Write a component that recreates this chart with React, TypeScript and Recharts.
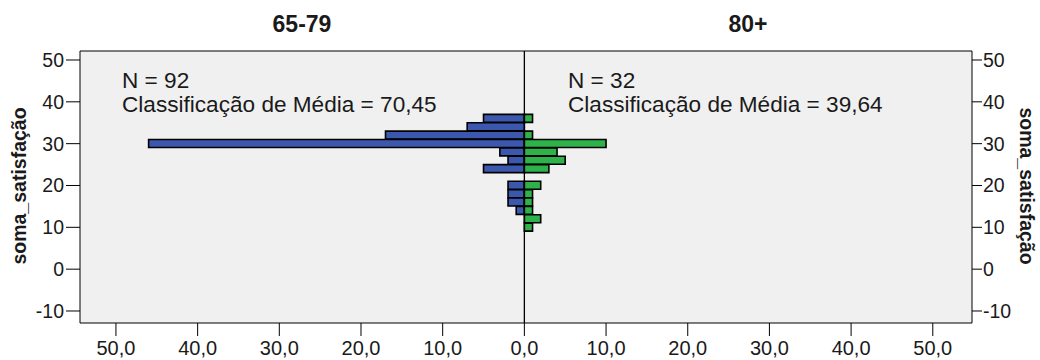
import React from "react";
import {
  ComposedChart,
  Bar,
  XAxis,
  YAxis,
  CartesianGrid,
  ReferenceLine,
  Customized,
} from "recharts";

// Histogram bin centres of soma_satisfação (bin width 2)
const bins = [36, 34, 32, 30, 28, 26, 24, 22, 20, 18, 16, 14, 12, 10];
// Frequencies per bin for each age group
const group6579 = [5, 7, 17, 46, 3, 2, 5, 0, 2, 2, 2, 1, 0, 0];
const group80 = [1, 0, 1, 10, 4, 5, 3, 0, 2, 1, 1, 1, 2, 1];

const groupTitles = ["65-79", "80+"];
const groupN = [92, 32];
const meanRanks = ["70,45", "39,64"];

const xTicks = [-50, -40, -30, -20, -10, 0, 10, 20, 30, 40, 50];
const yTicks = [-10, 0, 10, 20, 30, 40, 50];
const axisTitle = "soma_satisfação";

const data = bins.map((b, i) => ({
  bin: b,
  left: group6579[i] ? -group6579[i] : null,
  right: group80[i] ? group80[i] : null,
}));

const FONT = "'Liberation Sans', Arial, sans-serif";
const BLUE = "#3C58AE";
const GREEN = "#2DB34A";
const INK = "#1a1a1a";

const fmtX = (v: number) => Math.abs(v).toFixed(1).replace(".", ",");

const Texts = () => (
  <g fontFamily={FONT} fill={INK}>
    <text x={302} y={32} textAnchor="middle" fontSize={23} fontWeight="bold">
      {groupTitles[0]}
    </text>
    <text x={748} y={32} textAnchor="middle" fontSize={23} fontWeight="bold">
      {groupTitles[1]}
    </text>
    <text x={122} y={88} fontSize={22.6}>{`N = ${groupN[0]}`}</text>
    <text x={122} y={111.5} fontSize={22.6}>
      {`Classificação de Média = ${meanRanks[0]}`}
    </text>
    <text x={568} y={88} fontSize={22.6}>{`N = ${groupN[1]}`}</text>
    <text x={568} y={111.5} fontSize={22.6}>
      {`Classificação de Média = ${meanRanks[1]}`}
    </text>
    <text
      transform="translate(19,186) rotate(-90)"
      textAnchor="middle"
      dominantBaseline="central"
      fontSize={19.5}
      fontWeight="bold"
    >
      {axisTitle}
    </text>
    <text
      transform="translate(1027,186) rotate(90)"
      textAnchor="middle"
      dominantBaseline="central"
      fontSize={19.5}
      fontWeight="bold"
    >
      {axisTitle}
    </text>
  </g>
);

export default function App() {
  const xDomain: [number, number] = [-54.4, 54.8];
  const yDomain: [number, number] = [-12.87, 52.15];
  return (
    <div style={{ position: "absolute", left: 0, top: 0, background: "#fff" }}>
      <ComposedChart
        width={1040}
        height={360}
        data={data}
        layout="vertical"
        stackOffset="sign"
        barCategoryGap={0}
        barGap={0}
        margin={{ top: 50, right: 0, bottom: 0, left: 0 }}
      >
        <CartesianGrid
          xAxisId="bottom"
          yAxisId="left"
          horizontal={false}
          vertical={false}
          fill="#F0F0F0"
        />
        <XAxis
          xAxisId="bottom"
          type="number"
          domain={xDomain}
          ticks={xTicks}
          allowDataOverflow
          tickFormatter={fmtX}
          height={37}
          tickSize={13}
          tickMargin={5}
          stroke="#000"
          tick={{ fontSize: 20, fill: INK, fontFamily: FONT }}
          interval={0}
        />
        <XAxis
          xAxisId="top"
          orientation="top"
          type="number"
          domain={xDomain}
          ticks={xTicks}
          allowDataOverflow
          height={1}
          tick={false}
          tickLine={false}
          stroke="#000"
        />
        <YAxis
          yAxisId="left"
          type="number"
          dataKey="bin"
          domain={yDomain}
          ticks={yTicks}
          reversed
          allowDataOverflow
          width={80}
          tickSize={14}
          tickMargin={2}
          stroke="#000"
          tick={{ fontSize: 19.5, fill: INK, fontFamily: FONT }}
          interval={0}
        />
        <YAxis
          yAxisId="right"
          orientation="right"
          type="number"
          dataKey="bin"
          domain={yDomain}
          ticks={yTicks}
          reversed
          allowDataOverflow
          width={68}
          tickSize={10}
          tickMargin={1}
          stroke="#000"
          tick={{ fontSize: 19.5, fill: INK, fontFamily: FONT }}
          interval={0}
        />
        <Bar
          xAxisId="bottom"
          yAxisId="left"
          dataKey="left"
          stackId="s"
          fill={BLUE}
          stroke="#000"
          strokeWidth={1.6}
          isAnimationActive={false}
        />
        <Bar
          xAxisId="bottom"
          yAxisId="left"
          dataKey="right"
          stackId="s"
          fill={GREEN}
          stroke="#000"
          strokeWidth={1.6}
          isAnimationActive={false}
        />
        <ReferenceLine
          xAxisId="bottom"
          yAxisId="left"
          x={0}
          stroke="#000"
          strokeWidth={1.3}
        />
        <Customized component={Texts} />
      </ComposedChart>
    </div>
  );
}
